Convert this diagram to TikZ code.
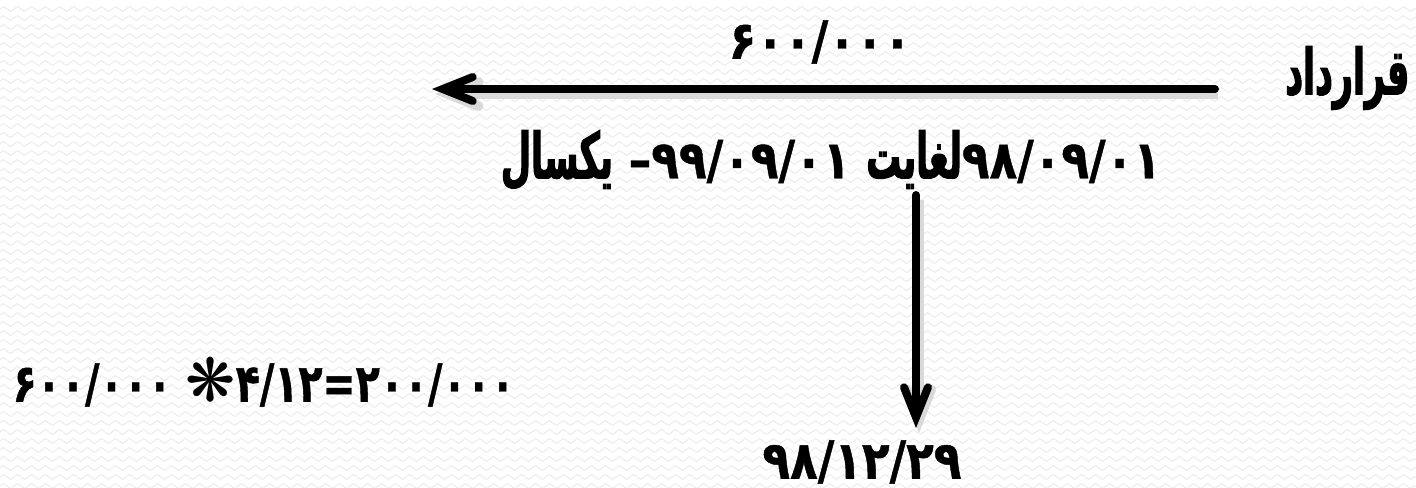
\documentclass[tikz,border=0pt]{standalone}
\usepackage{fontspec}
\usetikzlibrary{arrows.meta,decorations.pathmorphing}
\newfontfamily\farsi[Script=Arabic,FakeStretch=0.86,FakeBold=0.8]{DejaVu Sans}
\newfontfamily\farsitight[Script=Arabic,FakeStretch=0.75,FakeBold=0.8]{DejaVu Sans}
\newfontfamily\farsiword[Script=Arabic,FakeStretch=0.55,FakeBold=1.8]{DejaVu Sans}
\newfontfamily\symb{DejaVu Sans}
\newcommand\num[1]{{\farsi #1}}
\newcommand\word[1]{{\farsiword\fontsize{18}{20}\selectfont #1}}
\tikzset{
    txt/.style={font=\farsi\bfseries\fontsize{15}{18}\selectfont, inner sep=0pt},
    flow/.style={line width=0.8mm, line cap=round, -{Straight Barb[length=3mm,width=2.4mm,line cap=round]},
        preaction={draw, gray!30, line width=1mm, transform canvas={shift={(0.03,-0.05)}}}},
    wave/.style={black!7, line width=0.3pt, decorate, decoration={zigzag, segment length=0.14cm, amplitude=0.025cm}}
}
\begin{document}
\begin{tikzpicture}
    \useasboundingbox[fill=white](0,0)rectangle(14.16,-4.87);
        \foreach \y in {1,...,54}
            \draw[wave](0,-0.09*\y)--(14.16,-0.09*\y);

        \node[txt](amount)at(8.20,-0.42){\num{۶۰۰/۰۰۰}};
        \node[txt,anchor=east](contract)at(14.10,-0.78){\word{قرارداد}};
        \coordinate(start)at(12.15,-0.89);
        \coordinate(tip)at(4.32,-0.89);
        \draw[flow](start)--(tip);

        \node[txt](period)at(8.31,-1.60){\word{یکسال}\ \num{–}\kern0pt\num{۹۹/۰۹/۰۱}\ \word{لغایت}\num{۹۸/۰۹/۰۱}};
        \coordinate(top)at(9.16,-1.95);
        \coordinate(bottom)at(9.16,-4.28);
        \draw[flow](top)--(bottom);
        \node[txt](enddate)at(8.62,-4.62){\num{۹۸/۱۲/۲۹}};

        \node[txt,font=\farsitight\bfseries\fontsize{15}{18}\selectfont,anchor=west](share)at(0.12,-3.82)
            {۶۰۰/۰۰۰ {\symb\fontsize{17}{18}\selectfont ❋}۴/۱۲\kern0pt=\kern0pt۲۰۰/۰۰۰};
\end{tikzpicture}
\end{document}
